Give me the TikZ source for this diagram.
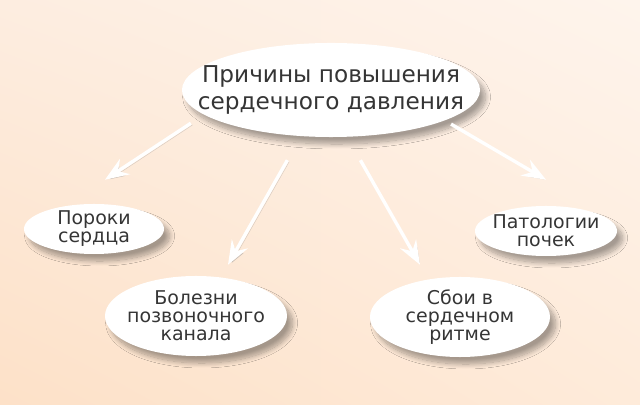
\documentclass[tikz,border=0pt]{standalone}
\usepackage{fontspec}
\setmainfont{DejaVu Sans}
\usepackage{xcolor}
\usepackage{tikz}
\usetikzlibrary{arrows.meta}
\usetikzlibrary{shapes}
\usetikzlibrary{shadings}
\usetikzlibrary{shadows.blur}

\definecolor{bgul}{HTML}{FDEDE0}
\definecolor{bgur}{HTML}{FEF4EC}
\definecolor{bgll}{HTML}{FDE1C8}
\definecolor{bglr}{HTML}{FEEBDA}
\definecolor{txt}{HTML}{353535}

\begin{document}
\begin{tikzpicture}[x=0.025cm,y=-0.025cm,
      bubble style/.style={ellipse,fill=white,inner sep=0pt,
        blur shadow={shadow xshift=4pt,shadow yshift=-5pt,
        shadow blur radius=3.5pt,shadow blur steps=12,shadow opacity=35}},
      bubble text/.style={align=center,text=txt,inner sep=0pt},
      big font/.style={font=\fontsize{16.5}{19}\selectfont},
      small font/.style={font=\fontsize{13.5}{12.8}\selectfont},
      arrow style/.style={white,line width=2.4pt,
        -{Stealth[length=17pt,width=13pt,inset=6pt]},
        preaction={draw=black!45,opacity=.3,
          transform canvas={shift={(1.2pt,-1.2pt)}}}}
      ]
      \shade[upper left=bgul,upper right=bgur,lower left=bgll,lower right=bglr]
        (0,0) rectangle (640,405);
      \useasboundingbox (0,0) rectangle (640,405);

      \node[bubble style,minimum width=7.45cm,minimum height=2.35cm,
        label={[bubble text,big font]center:{Причины повышения\\сердечного давления}}]
        (main) at (331,90) {};
      \node[bubble style,minimum width=3.5cm,minimum height=1.25cm,
        label={[bubble text,small font]center:{Пороки\\сердца}}]
        (poroki) at (94,229) {};
      \node[bubble style,minimum width=4.55cm,minimum height=2cm,
        label={[bubble text,small font]center:{Болезни\\позвоночного\\канала}}]
        (bolezni) at (196,316) {};
      \node[bubble style,minimum width=4.5cm,minimum height=2cm,
        label={[bubble text,small font]center:{Сбои в\\сердечном\\ритме}}]
        (sboi) at (460,317) {};
      \node[bubble style,minimum width=3.55cm,minimum height=1.25cm,
        label={[bubble text,small font]center:{Патологии\\почек}}]
        (pochki) at (546,231) {};

      % arrow tips stop short of the small ellipses
      \coordinate (poroki tip) at ([shift={(0.275cm,0.6cm)}]poroki.north);
      \coordinate (bolezni tip) at ([shift={(0.8cm,0.275cm)}]bolezni.north);
      \coordinate (sboi tip) at ([shift={(-1cm,0.3cm)}]sboi.north);
      \coordinate (pochki tip) at ([shift={(0cm,0.65cm)}]pochki.north);

      \draw[arrow style,shorten <=11pt] (main.191.6) -- (poroki tip);
      \draw[arrow style,shorten <=19.5pt] (main.237.5) -- (bolezni tip);
      \draw[arrow style,shorten <=19pt] (main.289.9) -- (sboi tip);
      \draw[arrow style,shorten <=5pt] (main.345.8) -- (pochki tip);

    \end{tikzpicture}
\end{document}
